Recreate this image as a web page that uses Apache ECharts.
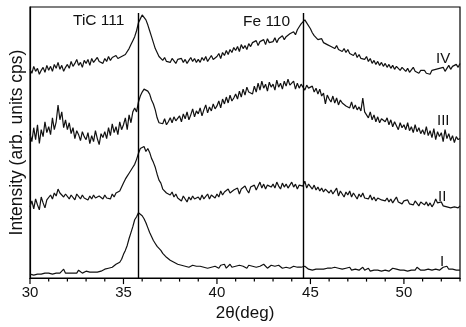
<!DOCTYPE html>
<html>
<head>
<meta charset="UTF-8">
<title>XRD patterns</title>
<script src="https://cdn.jsdelivr.net/npm/echarts@6/dist/echarts.min.js"></script>
<style>
  html, body { margin: 0; padding: 0; background: #fff; }
  #chart { width: 466px; height: 327px; }
</style>
</head>
<body>
<div id="chart"></div>
<script>
// 2theta grid: 30.0 .. 53.0 deg, step 0.1
var xStart = 30, xStep = 0.1;
var xTicks = [30, 35, 40, 45, 50];
var degTicks = [30,31,32,33,34,35,36,37,38,39,40,41,42,43,44,45,46,47,48,49,50,51,52,53];
var peakLines = [35.77, 44.64];
var peakNames = ['TiC 111', 'Fe 110'];
var sampleNames = ['I', 'II', 'III', 'IV'];

// intensities (offset stacked, arb. units)
var curveI = [
  4,5,3,5,4,6,4,5,5,4,
  5,6,4,6,5,7,5,6,9,5,
  6,5,7,5,6,5,8,6,5,6,
  7,5,6,8,6,7,6,8,7,8,
  9,8,10,9,11,12,14,13,16,19,
  24,28,33,40,46,52,59,62,66,65,
  63,60,56,51,46,42,38,35,32,30,
  28,25,23,21,19,18,17,16,15,14,
  14,13,14,12,13,11,12,13,11,12,
  11,12,10,11,13,10,12,11,10,12,
  12,10,13,11,14,10,12,14,11,13,
  12,10,13,11,12,14,10,13,11,12,
  13,11,10,12,11,14,12,10,11,13,
  11,12,10,13,11,10,12,11,13,10,
  11,12,10,11,13,11,10,12,13,9,
  9,8,10,9,8,9,10,9,11,10,
  9,10,8,11,9,10,12,9,8,10,
  9,11,8,10,9,10,8,9,11,8,
  9,10,7,9,8,10,8,9,7,9,
  8,9,7,8,10,8,9,7,8,9,
  8,9,7,9,8,10,8,11,9,8,
  9,8,10,9,11,8,10,9,10,8,
  9,11,10,12,9,8,9,10,8,9,
  8
];
var curveII = [
  72,78,70,80,74,69,82,76,71,79,
  77,84,80,86,83,90,86,88,82,85,
  86,80,84,82,79,85,83,80,84,81,
  82,79,83,80,84,81,79,83,82,80,
  84,81,83,80,85,82,86,84,88,92,
  96,100,103,106,108,112,115,120,126,131,
  130,133,128,131,127,121,117,112,105,99,
  96,90,92,86,88,84,87,82,85,81,
  81,78,83,80,77,82,79,83,80,78,
  82,79,84,80,82,85,80,84,86,81,
  85,82,88,84,87,85,90,86,84,89,
  87,91,85,90,88,93,89,86,92,90,
  94,89,93,97,91,95,90,94,96,92,
  95,91,97,93,90,96,92,95,91,94,
  97,92,95,90,94,96,93,98,91,95,
  93,90,94,89,92,88,91,87,90,88,
  86,89,85,84,91,83,88,85,82,87,
  84,88,82,86,83,80,85,82,86,81,
  83,80,84,79,82,78,81,83,79,80,
  78,81,77,80,76,79,82,77,78,75,
  78,76,79,75,77,74,78,76,73,77,
  75,74,77,73,76,72,75,80,76,74,
  77,73,75,72,74,71,73,72,74,71,
  73
];
var curveIII = [
  146,138,152,140,155,136,150,143,158,147,
  153,145,162,150,158,175,160,168,152,160,
  150,157,146,152,141,149,145,139,148,143,
  140,147,136,144,138,149,141,135,146,142,
  148,141,152,144,156,147,153,145,158,150,
  155,162,150,165,157,168,172,168,178,184,
  188,191,193,189,186,180,176,170,162,157,
  159,156,161,155,158,162,157,163,159,161,
  164,158,166,161,168,160,165,171,163,169,
  166,172,164,170,175,167,173,169,176,171,
  174,179,172,181,176,183,177,185,179,182,
  186,181,189,183,191,185,193,188,190,186,
  194,188,197,190,199,192,196,189,198,193,
  196,190,200,193,197,191,199,194,201,195,
  193,199,191,197,192,196,194,190,195,192,
  190,194,188,192,186,191,184,187,176,185,
  181,178,184,177,182,175,180,177,179,174,
  176,172,178,171,175,170,173,169,182,168,
  166,162,168,160,165,158,163,157,161,159,
  158,162,155,160,153,158,156,150,157,152,
  155,150,157,149,153,147,155,148,152,146,
  150,145,153,144,149,142,151,140,148,143,
  147,138,150,141,146,139,144,137,143,140,
  141
];
var curveIV = [
  211,207,214,209,212,206,210,213,208,215,
  210,214,209,216,212,218,211,215,209,213,
  216,212,219,214,217,221,215,218,213,220,
  217,221,215,222,218,216,223,219,221,217,
  222,219,224,220,223,221,225,222,220,224,
  223,226,228,232,236,240,244,250,258,262,
  266,264,261,256,250,244,238,232,228,224,
  222,220,223,219,221,218,222,220,217,221,
  219,222,218,221,217,220,223,219,222,218,
  221,218,223,220,224,219,222,225,221,223,
  224,227,222,228,225,230,226,231,228,233,
  230,234,229,236,232,235,231,237,234,238,
  236,240,235,239,237,241,236,242,238,240,
  239,243,238,242,240,245,241,244,243,247,
  245,249,246,251,254,257,259,261,258,256,
  252,248,245,243,241,239,242,238,240,236,
  237,234,236,232,235,231,233,229,232,228,
  231,227,229,225,228,223,226,222,224,221,
  224,219,222,217,220,216,219,215,218,214,
  217,213,216,212,215,211,214,212,210,213,
  211,209,212,208,210,213,209,211,207,210,
  208,210,207,209,206,210,208,211,209,212,
  210,213,209,212,215,211,214,212,216,213,
  217
];

function toPairs(arr) {
  return arr.map(function (v, i) {
    return [+(xStart + i * xStep).toFixed(2), v];
  });
}

var curves = [curveI, curveII, curveIII, curveIV];
var series = curves.map(function (c, k) {
  return {
    name: sampleNames[k],
    type: 'line',
    data: toPairs(c),
    showSymbol: false,
    animation: false,
    lineStyle: { color: '#111', width: 1.2 }
  };
});

// vertical reference lines
series[0].markLine = {
  silent: true,
  symbol: 'none',
  label: { show: false },
  lineStyle: { color: '#000', width: 1.4, type: 'solid' },
  data: peakLines.map(function (p) {
    return [{ coord: [p, 0] }, { coord: [p, 268] }];
  })
};

// tick marks below the x axis (long every 5 deg, short every 1 deg)
series.push({
  type: 'custom',
  silent: true,
  clip: false,
  animation: false,
  data: degTicks.map(function (t) { return [t, 0]; }),
  renderItem: function (params, api) {
    var v = api.value(0);
    var p = api.coord([v, 0]);
    var len = xTicks.indexOf(v) >= 0 ? 6 : 3.5;
    return {
      type: 'line',
      shape: { x1: p[0], y1: p[1], x2: p[0], y2: p[1] + len },
      style: { stroke: '#000', lineWidth: 1.2 }
    };
  }
});

var myChart = echarts.init(document.getElementById('chart'));
var option = {
  animation: false,
  grid: {
    left: 25, right: 6, top: 7, bottom: 46,
    show: true, borderColor: '#000', borderWidth: 1.2
  },
  xAxis: {
    type: 'value',
    min: 30, max: 53, interval: 5,
    name: '2θ(deg)',
    nameLocation: 'middle',
    nameGap: 26,
    nameTextStyle: { fontFamily: 'Liberation Sans', fontSize: 17, color: '#111' },
    axisLine: { lineStyle: { color: '#000', width: 1.2 } },
    axisTick: { show: false },
    splitLine: { show: false },
    axisLabel: {
      fontFamily: 'Liberation Sans', fontSize: 15, color: '#111', margin: 7,
      formatter: function (v) { return xTicks.indexOf(v) >= 0 ? String(v) : ''; }
    }
  },
  yAxis: {
    type: 'value',
    min: 0, max: 274,
    name: 'Intensity (arb. units cps)',
    nameLocation: 'middle',
    nameGap: 4,
    nameTextStyle: { fontFamily: 'Liberation Sans', fontSize: 17.5, color: '#111' },
    axisLine: { show: true, lineStyle: { color: '#000', width: 1.2 } },
    axisTick: { show: false },
    axisLabel: { show: false },
    splitLine: { show: false }
  },
  graphic: [
    { type: 'text', left: 73, top: 13, style: { text: peakNames[0], font: '15.5px "Liberation Sans"', fill: '#111' } },
    { type: 'text', left: 243, top: 14, style: { text: peakNames[1], font: '15.5px "Liberation Sans"', fill: '#111' } },
    { type: 'text', left: 436, top: 51, style: { text: sampleNames[3], font: '15px "Liberation Sans"', fill: '#111' } },
    { type: 'text', left: 437, top: 113, style: { text: sampleNames[2], font: '15px "Liberation Sans"', fill: '#111' } },
    { type: 'text', left: 438, top: 189, style: { text: sampleNames[1], font: '15px "Liberation Sans"', fill: '#111' } },
    { type: 'text', left: 440, top: 254, style: { text: sampleNames[0], font: '15px "Liberation Sans"', fill: '#111' } }
  ],
  series: series
};
myChart.setOption(option);
</script>
</body>
</html>
